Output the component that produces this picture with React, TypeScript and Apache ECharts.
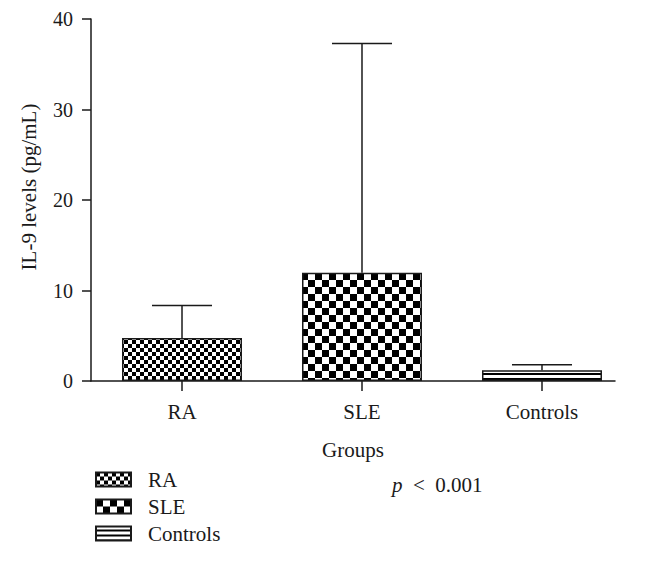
import React, { useEffect, useRef } from "react";
import * as echarts from "echarts";

const categories = ["RA", "SLE", "Controls"];
const positions = [1, 2, 3];
const means = [4.75, 11.95, 1.2];
const upperErrors = [8.35, 37.3, 1.8];
const yTicks = [0, 10, 20, 30, 40];

const FONT = "'Liberation Serif', 'DejaVu Serif', serif";
const INK = "#1a1a1a";

function checker(cell: number) {
  const c = document.createElement("canvas");
  c.width = cell * 2;
  c.height = cell * 2;
  const ctx = c.getContext("2d")!;
  ctx.fillStyle = "#ffffff";
  ctx.fillRect(0, 0, cell * 2, cell * 2);
  ctx.fillStyle = "#000000";
  ctx.fillRect(0, 0, cell, cell);
  ctx.fillRect(cell, cell, cell, cell);
  return { image: c, repeat: "repeat", imageWidth: cell * 2, imageHeight: cell * 2 };
}

function stripes(period: number) {
  const c = document.createElement("canvas");
  c.width = 4;
  c.height = period;
  const ctx = c.getContext("2d")!;
  ctx.fillStyle = "#ffffff";
  ctx.fillRect(0, 0, 4, period);
  ctx.fillStyle = "#000000";
  ctx.fillRect(0, period - 2, 4, 2);
  return { image: c, repeat: "repeat", imageWidth: 4, imageHeight: period };
}

export default function App() {
  const ref = useRef<HTMLDivElement>(null);
  useEffect(() => {
    if (!ref.current) return;
    const chart = echarts.init(ref.current, null, { renderer: "svg" });
    const fills = [checker(4), checker(7), stripes(5)];
    const barSeries = categories.map((name, i) => ({
      name,
      type: "bar",
      data: [[positions[i], means[i]]],
      barWidth: 120,
      barGap: "-100%",
      itemStyle: { color: fills[i] as any, borderColor: INK, borderWidth: 1.5 },
      z: 2,
    }));
    const errData = positions.map((p, i) => [p, means[i], upperErrors[i]]);
    chart.setOption({
      animation: false,
      backgroundColor: "#ffffff",
      grid: { left: 91, top: 19, right: 30, bottom: 180, containLabel: false },
      xAxis: {
        type: "value",
        min: 0.4944,
        max: 3.4056,
        name: "Groups",
        nameLocation: "middle",
        nameGap: 58,
        nameTextStyle: { fontFamily: FONT, fontSize: 21, color: INK },
        splitLine: { show: false },
        axisLine: { show: true, onZero: false, lineStyle: { color: INK, width: 1.5 } },
        axisTick: { show: true, customValues: positions, length: 10, inside: false, lineStyle: { color: INK, width: 1.5 } },
        axisLabel: {
          customValues: positions,
          formatter: (v: number) => categories[Math.round(v) - 1] ?? "",
          fontFamily: FONT,
          fontSize: 21,
          color: INK,
          margin: 20,
        },
      },
      yAxis: {
        type: "value",
        min: 0,
        max: 40,
        interval: 10,
        splitLine: { show: false },
        axisLine: { show: true, lineStyle: { color: INK, width: 1.5 } },
        axisTick: { show: true, customValues: yTicks, length: 9, lineStyle: { color: INK, width: 1.5 } },
        axisLabel: { fontFamily: FONT, fontSize: 20, color: INK, margin: 18 },
      },
      legend: {
        data: categories,
        orient: "vertical",
        left: 90,
        top: 464,
        icon: "rect",
        itemWidth: 35,
        itemHeight: 14,
        itemGap: 6,
        textStyle: { fontFamily: FONT, fontSize: 21, color: INK, padding: [0, 0, 0, 12] },
        selectedMode: false,
      },
      graphic: [
        {
          type: "text",
          x: 29,
          y: 187,
          rotation: Math.PI / 2,
          style: {
            text: "IL-9 levels (pg/mL)",
            fontFamily: FONT,
            fontSize: 21,
            fill: INK,
            align: "center",
            verticalAlign: "middle",
          },
        },
        {
          type: "text",
          left: 392,
          top: 474,
          style: {
            text: "{i|p}\u2002<\u20020.001",
            fontFamily: FONT,
            fontSize: 21,
            fill: INK,
            rich: { i: { fontStyle: "italic", fontFamily: FONT, fontSize: 21, fill: INK } },
          },
        },
      ],
      series: [
        ...barSeries,
        {
          type: "custom",
          name: "err",
          data: errData,
          z: 3,
          renderItem: (params: any, api: any) => {
            const x = api.value(0);
            const top = api.coord([x, api.value(2)]);
            const base = api.coord([x, api.value(1)]);
            const half = 30;
            const style = { stroke: INK, lineWidth: 1.5 };
            return {
              type: "group",
              children: [
                { type: "line", shape: { x1: base[0], y1: base[1], x2: top[0], y2: top[1] }, style },
                { type: "line", shape: { x1: top[0] - half, y1: top[1], x2: top[0] + half, y2: top[1] }, style },
              ],
            };
          },
        },
      ],
    } as any);
    return () => chart.dispose();
  }, []);
  return <div ref={ref} style={{ width: 645, height: 561, position: "absolute", left: 0, top: 0 }} />;
}
